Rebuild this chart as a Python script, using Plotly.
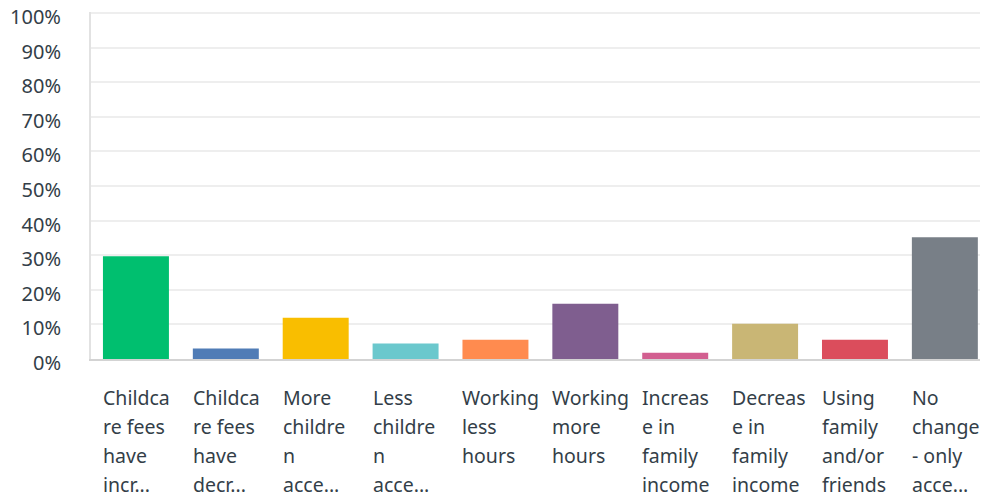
import plotly.graph_objects as go

categories = [
    "Childcare fees have increased",
    "Childcare fees have decreased",
    "More children accessing",
    "Less children accessing",
    "Working less hours",
    "Working more hours",
    "Increase in family income",
    "Decrease in family income",
    "Using family and/or friends",
    "No change - only accessing",
]
label_lines = [
    ["Childca", "re fees", "have", "incr..."],
    ["Childca", "re fees", "have", "decr..."],
    ["More", "childre", "n", "acce..."],
    ["Less", "childre", "n", "acce..."],
    ["Working", "less", "hours"],
    ["Working", "more", "hours"],
    ["Increas", "e in", "family", "income"],
    ["Decreas", "e in", "family", "income"],
    ["Using", "family", "and/or", "friends"],
    ["No", "change", "- only", "acce..."],
]
values = [29.7, 3.0, 11.9, 4.5, 5.6, 16.0, 1.8, 10.2, 5.6, 35.2]
colors = ["#00BF6F", "#507CB6", "#F9BE00", "#6BC8CD", "#FF8B4F",
          "#7F5E8F", "#D25F90", "#C9B675", "#DB4D5C", "#787F87"]
y_ticks = list(range(0, 101, 10))
y_tick_labels = [f"{v}%" for v in y_ticks]

FONT = "Noto Sans"
TXT = "#333E48"

x_idx = list(range(len(categories)))
fig = go.Figure(go.Bar(x=x_idx, y=values, marker=dict(color=colors, line=dict(width=0)),
                       hovertext=categories, hoverinfo="text+y"))

annotations = []
for i, lines in enumerate(label_lines):
    for j, line in enumerate(lines):
        annotations.append(dict(
            x=i, y=0, xref="x", yref="y", text=line, showarrow=False,
            xanchor="left", yanchor="middle", xshift=-35, yshift=-(38 + 29 * j),
            font=dict(family=FONT, size=19.5, color=TXT), align="left"))

fig.update_layout(
    width=980, height=488,
    margin=dict(l=83, r=0, t=4, b=137),
    paper_bgcolor="white", plot_bgcolor="white",
    bargap=0.266, showlegend=False,
    annotations=annotations,
    xaxis=dict(range=[-0.5, 9.48], showticklabels=False, showgrid=False,
               zeroline=False, showline=True, linecolor="#D3D3D3", linewidth=2,
               fixedrange=True, automargin=False),
    yaxis=dict(range=[0, 100.3], tickvals=y_ticks, ticktext=y_tick_labels,
               showgrid=True, gridcolor="#EEEEEE", gridwidth=2,
               zeroline=False, showline=True, linecolor="#E2E2E2", linewidth=2,
               ticks="", ticklabelstandoff=24, ticklabeloverflow="allow",
               ticklabelshift=4, automargin=False,
               tickfont=dict(family=FONT, size=20, color=TXT), fixedrange=True),
)

fig.write_html("out.html")
